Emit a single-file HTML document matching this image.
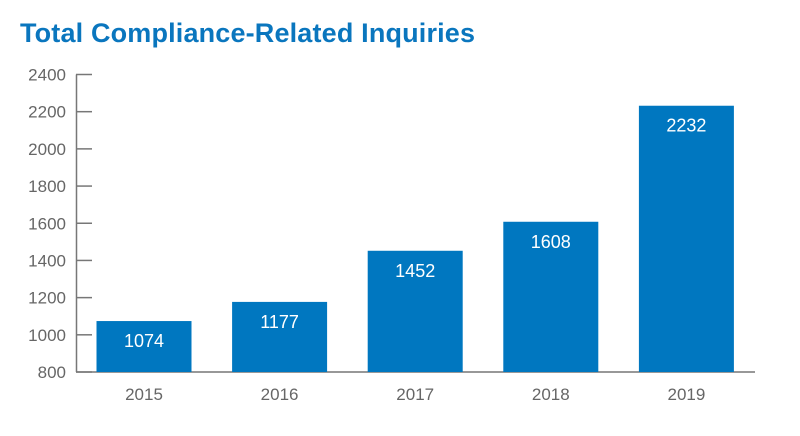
<!DOCTYPE html>
<html><head><meta charset="utf-8"><style>
body{margin:0;background:#fff;width:800px;height:431px;overflow:hidden;font-family:"Liberation Sans",sans-serif}
</style></head><body>
<svg width="800" height="431">
<text x="20" y="42" font-size="27" font-weight="bold" fill="#0a76be" textLength="455">Total Compliance-Related Inquiries</text>
<g id="axes"></g><g id="bars"></g>
</svg>
<script>
const categories=["2015","2016","2017","2018","2019"];
const values=[1074,1177,1452,1608,2232];
const yTicks=[800,1000,1200,1400,1600,1800,2000,2200,2400];
const NS="http://www.w3.org/2000/svg";
const y0=372,y1=74.5,vmin=800,vmax=2400;
function y(v){return y0-(v-vmin)/(vmax-vmin)*(y0-y1);}
function x(i){return 96.5+i*135.6;}
const bw=95;
function mk(p,t,a){const e=document.createElementNS(NS,t);for(const k in a)e.setAttribute(k,a[k]);p.appendChild(e);return e;}
const ax=document.getElementById('axes'),bg=document.getElementById('bars');
const yl=mk(ax,'line',{x1:76.5,x2:76.5,y1:y1,y2:y0,stroke:'#777','stroke-width':1.5});


const xl=mk(ax,'line',{x1:76,x2:755,y1:y0,y2:y0,stroke:'#777','stroke-width':1.5});


yTicks.forEach(t=>{
 const l=mk(ax,'line',{x1:76,x2:92,y1:y(t),y2:y(t),stroke:'#777','stroke-width':1.5});
 
 
 const tx=mk(ax,'text',{x:66,y:y(t)+6,'text-anchor':'end','font-size':17,fill:'#666'});
 tx.textContent=t;
 
 
});
categories.forEach((c,i)=>{
 const r=mk(bg,'rect',{x:x(i),y:y(values[i]),width:bw,height:y0-y(values[i]),fill:'#0077c0'});
 
 
 const v=mk(bg,'text',{x:x(i)+bw/2,y:y(values[i])+26,'text-anchor':'middle','font-size':18,fill:'#fff'});
 v.textContent=values[i];
 
 
 const cl=mk(bg,'text',{x:x(i)+bw/2,y:400,'text-anchor':'middle','font-size':17,fill:'#666'});
 cl.textContent=c;
 
 
});
</script>
</body></html>
